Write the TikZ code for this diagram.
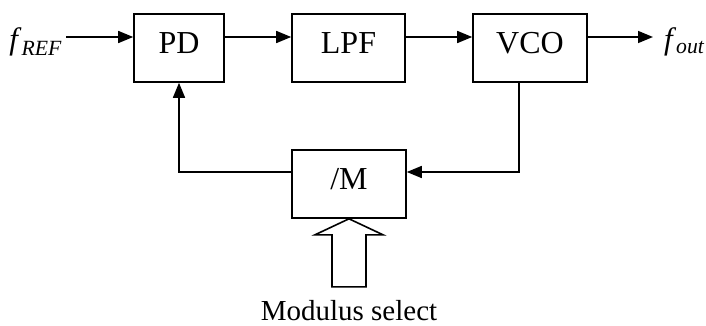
\documentclass[tikz,border=0pt]{standalone}
\usepackage{fontspec}
\setmainfont{Liberation Serif}
\usetikzlibrary{arrows.meta}

\begin{document}
\begin{tikzpicture}[x=1pt, y=-1pt, line width=1.6pt,
  block/.style={draw, minimum height=68pt, text depth=10pt, inner sep=0pt, font=\fontsize{32}{36}\selectfont},
  sig/.style={-{Triangle[length=15pt, width=12pt]}}]
\useasboundingbox (0,0) rectangle (706,326);

% forward path
\node[block, minimum width=90pt] at (179,48) (pd) {PD};
\node[block, minimum width=113pt] at (348.5,48) (lpf) {LPF};
\node[block, minimum width=114pt] at (530,48) (vco) {VCO};

% divider in the loop
\node[block, minimum width=114pt] at (349,184) (m) {/M};

\node[anchor=base east, inner sep=0pt, outer xsep=4pt, font=\fontsize{31}{36}\selectfont] at (66,50) (fref) {\textit{f}\textsubscript{\textit{REF}}};
\node[anchor=base west, inner sep=0pt, outer xsep=11pt, font=\fontsize{31}{36}\selectfont] at (653,50) (fout) {\textit{f}\textsubscript{\textit{out}}};

\coordinate (lvl) at (0,37);
\coordinate (fb) at (519,172);

\draw[sig] (fref.east |- lvl) -- (pd.west |- lvl);
\draw[sig] (pd.east |- lvl) -- (lpf.west |- lvl);
\draw[sig] (lpf.east |- lvl) -- (vco.west |- lvl);
\draw[sig] (vco.east |- lvl) -- (fout.west |- lvl);

% feedback
\draw[sig] (vco.south -| fb) -- (fb) -- (m.east |- fb);
\draw[sig] (m.west |- fb) -- (pd.south |- fb) -- (pd.south);

% modulus select input
\draw (m.south) -- ++(34,16) -- ++(-17,0) -- ++(0,52) -- ++(-34,0) -- ++(0,-52) -- ++(-17,0) -- cycle;
\node[anchor=base, inner sep=0pt, font=\fontsize{29}{34}\selectfont] at (349,320) (sel) {Modulus select};
\end{tikzpicture}
\end{document}
